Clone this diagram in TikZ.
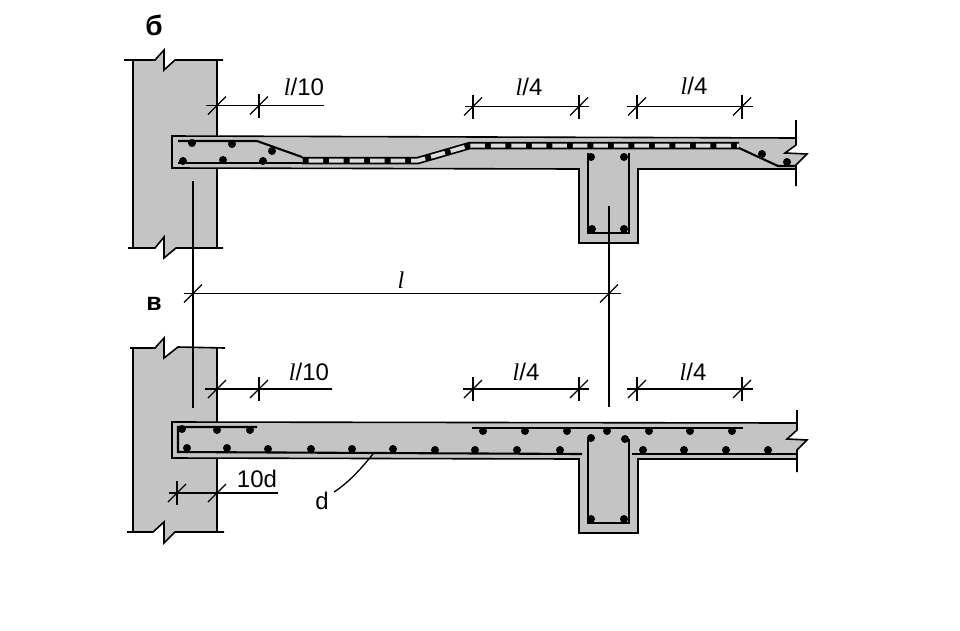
\documentclass[tikz,border=0pt]{standalone}
\usepackage{fontspec}
\setmainfont{Liberation Sans}
\newfontfamily\lfont{Liberation Serif}
\usepackage{tikz}
\usetikzlibrary{positioning}
\definecolor{mgray}{rgb}{0.77, 0.77, 0.77}
\definecolor{mlight}{rgb}{0.86, 0.86, 0.86}
\tikzset{
  x = 1pt, y = -1pt,
  circ/.style = {fill, circle, inner sep = 0, minimum size = 8},
  edge/.style = {line width = 1.6},
  thin line/.style = {line width = 1.3},
  bar/.style = {line width = 2.1},
  lbl/.style = {inner sep = 0, font = \fontsize{24}{24}\selectfont}
}
\newcommand{\il}{{\lfont\itshape l}}
\begin{document}
\begin{tikzpicture}
  \useasboundingbox (0, 0) rectangle (960, 630);

  % upper drawing
  \fill [mgray] (133, 60) -- (155, 60) -- (164, 50) -- (164, 70) -- (175, 60) -- (217, 60) -- (217, 136) -- (796, 138) -- (796, 145) -- (785, 153) -- (807, 154) -- (796, 165) -- (796, 169) -- (638, 169) -- (638, 243) -- (579, 243) -- (579, 169) -- (217, 168) -- (217, 248) -- (176, 248) -- (164, 258) -- (164, 237) -- (155, 248) -- (133, 248) -- cycle;
  \draw [edge] (124, 60) -- (155, 60) -- (164, 50) -- (164, 70) -- (175, 60) -- (223, 60);
  \draw [edge] (128, 248) -- (155, 248) -- (164, 237) -- (164, 258) -- (176, 248) -- (223, 248);
  \draw [edge] (133, 60) -- (133, 248);
  \draw [edge] (217, 60) -- (217, 136) (217, 168) -- (217, 248);
  \draw [edge] (796, 120) -- (796, 145) -- (785, 153) -- (807, 154) -- (796, 165) -- (796, 186);
  \draw [edge] (796, 138) -- (172, 136) -- (172, 168) -- (579, 169) -- (579, 243) -- (638, 243) -- (638, 169) -- (796, 169);

  % reinforcement
  \draw [bar] (178, 141) -- (257, 141) -- (302, 157);
  \draw [bar] (178, 163) -- (302, 163);
  \draw [line width = 7.5] (302, 160.5) -- (418, 160.5) -- (470, 145.5) -- (739, 145.5);
  \draw [mlight, line width = 4, dash pattern = on 14.5 off 6, dash phase = -6.5] (302, 160.5) -- (418, 160.5) -- (470, 145.5) -- (739, 145.5);
  \draw [bar] (739, 148) -- (778, 166) -- (796, 166);
  \draw [bar] (588, 153) -- (588, 233) -- (629, 233) -- (629, 153);
  \foreach \x/\y [count = \i] in {192/143, 232/144, 272/151, 183/161, 223/160, 263/161, 762/154, 787/162, 591/157, 624/157, 592/229, 624/229} {
    \node [circ] (ub\i) at (\x, \y) {};
  }

  % lower drawing
  \fill [mgray] (133, 348) -- (155, 348) -- (164, 338) -- (164, 358) -- (178, 348) -- (217, 348) -- (217, 422) -- (797, 423) -- (797, 430) -- (787, 439) -- (807, 440) -- (797, 450) -- (797, 459) -- (638, 459) -- (638, 533) -- (579, 533) -- (579, 459) -- (217, 458) -- (217, 532) -- (175, 532) -- (164, 543) -- (164, 522) -- (153, 532) -- (133, 532) -- cycle;
  \draw [edge] (130, 348) -- (155, 348) -- (164, 338) -- (164, 358) -- (178, 347) -- (225, 348);
  \draw [edge] (127, 532) -- (153, 532) -- (164, 522) -- (164, 543) -- (175, 532) -- (224, 532);
  \draw [edge] (133, 348) -- (133, 532);
  \draw [edge] (217, 348) -- (217, 422) (217, 458) -- (217, 532);
  \draw [edge] (797, 410) -- (797, 430) -- (787, 439) -- (807, 440) -- (797, 450) -- (797, 472);
  \draw [edge] (797, 423) -- (172, 422) -- (172, 458) -- (579, 459) -- (579, 533) -- (638, 533) -- (638, 459) -- (797, 459);

  % reinforcement
  \draw [bar] (257, 427) -- (178, 427) -- (178, 452) -- (582, 454);
  \draw [bar] (632, 454) -- (796, 454);
  \draw [bar] (472, 428) -- (743, 428);
  \draw [bar] (588, 437) -- (588, 523) -- (629, 523) -- (629, 439);
  \foreach \x/\y [count = \i] in {182/429, 217/430, 250/430, 187/448, 227/448, 268/449, 311/449, 352/449, 393/449, 435/450, 475/450, 517/450, 560/450, 643/450, 684/450, 726/450, 768/450, 483/431, 525/431, 567/431, 607/431, 649/431, 690/431, 732/431, 591/438, 625/439, 591/519, 624/519} {
    \node [circ] (lb\i) at (\x, \y) {};
  }

  % dimension lines
  \draw [thin line] (193, 181) -- (193, 408);
  \draw [thin line] (609, 206) -- (609, 407);
  \draw [thin line] (184, 293.5) -- (621, 293.5);
  \draw [thin line] (206, 105.5) -- (324, 105.5);
  \draw [thin line] (465, 106.5) -- (589, 106.5);
  \draw [thin line] (627, 106.5) -- (753, 106.5);
  \draw [thin line] (205, 389) -- (332, 389);
  \draw [thin line] (463, 389) -- (589, 389);
  \draw [thin line] (627, 389) -- (753, 389);
  \draw [thin line] (169, 493) -- (278, 493);
  \foreach \x/\y in {259/105.5, 473/106.5, 579/106.5, 637/106.5, 742/106.5, 259/389, 473/389, 579/389, 637/389, 742/389, 177/493} {
    \draw [thin line] (\x, \y-12) -- (\x, \y+12);
  }
  \foreach \x/\y in {217/105.5, 259/105.5, 473/106.5, 579/106.5, 637/106.5, 742/106.5, 193/293.5, 609/293.5, 217/389, 259/389, 473/389, 579/389, 637/389, 742/389, 177/493, 217/493} {
    \draw [thin line] (\x-9, \y+9) -- (\x+9, \y-9);
  }
  \coordinate (dstart) at (373, 454);
  \node [lbl] (dlabel) at (322, 501) {d};
  \draw [thin line] (dstart) .. controls (360, 470) and (348, 483) .. (334, 492);

  % labels
  \node [lbl, font = \fontsize{28}{28}\selectfont\bfseries] (ub) at (154, 25) {б};
  \node [lbl, font = \fontsize{25}{25}\selectfont\bfseries] (vl) at (154, 304) {в};
  \node [lbl] (ua) at (304, 87) {\il/10};
  \node [lbl] (ubb) at (529, 87) {\il/4};
  \node [lbl] (uc) at (694, 86) {\il/4};
  \node [lbl] (span) at (401, 280) {\il};
  \node [lbl] (la) at (309, 372) {\il/10};
  \node [lbl] (lbb) at (526, 372) {\il/4};
  \node [lbl] (lc) at (693, 372) {\il/4};
  \node [lbl] (ten) at (257, 479) {10d};
\end{tikzpicture}
\end{document}
